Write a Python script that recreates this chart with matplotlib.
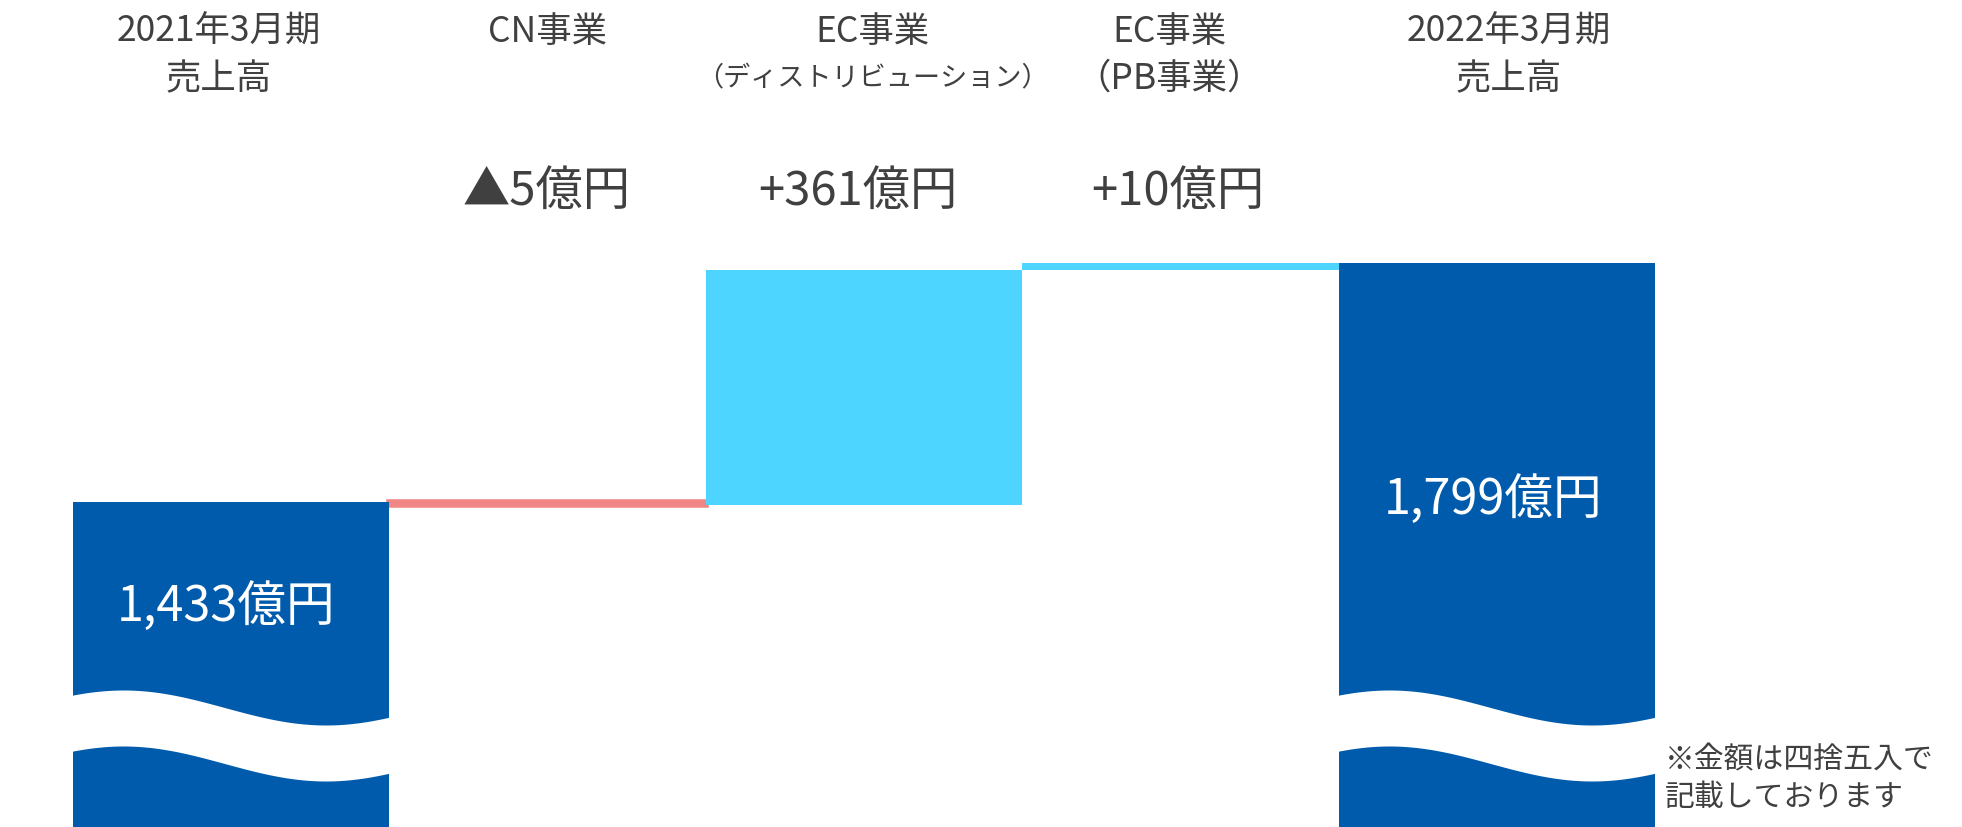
import matplotlib
matplotlib.use('Agg')
import matplotlib.pyplot as plt
import numpy as np

# ---------------- data ----------------
categories_line1 = ['2021年3月期', 'CN事業', 'EC事業', 'EC事業', '2022年3月期']
categories_line2 = ['売上高', '', '（ディストリビューション）', '（PB事業）', '売上高']
values = [1433, -5, 361, 10, 1799]
kinds = ['total', 'delta', 'delta', 'delta', 'total']
unit = '億円'
note_lines = ['※金額は四捨五入で', '記載しております']

# ---------------- style ----------------
plt.rcParams['font.family'] = ['Noto Sans CJK JP', 'DejaVu Sans']
C_TOTAL = '#005BAC'
C_POS = '#4DD5FF'
C_NEG = '#F08784'
C_TEXT = '#404040'

W, H = 1962, 828
fig = plt.figure(figsize=(W / 100, H / 100), dpi=100)
ax = fig.add_axes([0, 0, 1, 1])
ax.axis('off')

# layout (pixels)
x_left_px, bar_px = 72.6, 316.5
ax.set_xlim(-0.5 - x_left_px / bar_px, -0.5 + (W - x_left_px) / bar_px)
top_first_px, top_last_px = 503.0, 264.0
s = (top_first_px - top_last_px) / (values[-1] - values[0])
ax.set_ylim(values[0] - (H - top_first_px) / s, values[-1] + top_last_px / s)

def yfrac(px):
    return 1 - px / H

xt = ax.get_xaxis_transform()

# ---------------- bars ----------------
running = 0
for i, (v, k) in enumerate(zip(values, kinds)):
    if k == 'total':
        ax.bar(i, v, width=1.0, bottom=0, color=C_TOTAL, lw=0, zorder=2)
        running = v
    else:
        col = C_POS if v >= 0 else C_NEG
        lw = 4.0 if abs(v) < 8 else 0
        ax.bar(i, v, width=1.0, bottom=running, color=col, edgecolor=col,
               lw=lw, zorder=1)
        running += v

# ---------------- wave break ----------------
t = np.linspace(0, 1, 300)
upper = 708.5 - 17.5 * np.cos(2 * np.pi * (t - 0.16) / 1.28)
lower = upper + 56
for i, k in enumerate(kinds):
    if k == 'total':
        xx = i - 0.5 + t * 1.0
        xx = np.concatenate([[xx[0] - 0.02], xx, [xx[-1] + 0.02]])
        up = np.concatenate([[upper[0]], upper, [upper[-1]]])
        lo = np.concatenate([[lower[0]], lower, [lower[-1]]])
        ax.fill_between(xx, yfrac(lo), yfrac(up), transform=xt,
                        color='white', lw=0, zorder=3)

# ---------------- text ----------------
head_off = [-12.5, 0, 9, -11, 12]
for i in range(len(values)):
    xc = i + head_off[i] / bar_px
    ax.text(xc, yfrac(32), categories_line1[i], transform=xt, ha='center',
            va='center', fontsize=25.5, color=C_TEXT)
    if categories_line2[i]:
        fs2 = 25.5 if len(categories_line2[i]) < 8 else 19.5
        ax.text(xc, yfrac(79), categories_line2[i], transform=xt, ha='center',
                va='center', fontsize=fs2, color=C_TEXT)

delta_off = [0, -1, -6, -3, 0]
label_y_total = [608, 501]
ti = 0
for i, (v, k) in enumerate(zip(values, kinds)):
    if k == 'total':
        ax.text(i - 5 / bar_px if ti == 0 else i - 4 / bar_px,
                yfrac(label_y_total[ti]), f'{v:,}{unit}', transform=xt,
                ha='center', va='center', fontsize=35, color='white', zorder=5)
        ti += 1
    else:
        sign = '▲' if v < 0 else '+'
        ax.text(i + delta_off[i] / bar_px, yfrac(192), f'{sign}{abs(v):,}{unit}',
                transform=xt, ha='center', va='center', fontsize=34,
                color=C_TEXT)

ax.text(1665 / bar_px + ax.get_xlim()[0], yfrac(760), note_lines[0],
        transform=xt, ha='left', va='center', fontsize=21.5, color=C_TEXT)
ax.text(1665 / bar_px + ax.get_xlim()[0], yfrac(798), note_lines[1],
        transform=xt, ha='left', va='center', fontsize=21.5, color=C_TEXT)

fig.savefig('out.png', dpi=100, facecolor='white')
